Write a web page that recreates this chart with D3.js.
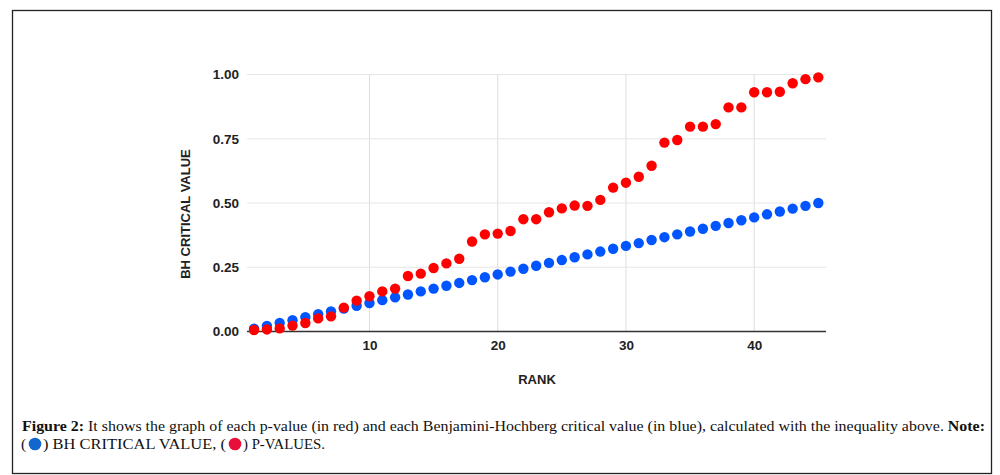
<!DOCTYPE html>
<html>
<head>
<meta charset="utf-8">
<script src="https://cdn.jsdelivr.net/npm/d3@7"></script>
<style>
  body { margin: 0; background: #fff; }
  svg { display: block; }
</style>
</head>
<body>
<div id="chart"></div>
<script>
// ranks 1..45
const ranks = d3.range(1, 46);

// BH critical values (blue)
const bhValues = [
  0.011, 0.022, 0.033, 0.044, 0.056, 0.067, 0.078, 0.089, 0.100, 0.111,
  0.122, 0.133, 0.144, 0.156, 0.167, 0.178, 0.189, 0.200, 0.211, 0.222,
  0.233, 0.244, 0.256, 0.267, 0.278, 0.289, 0.300, 0.311, 0.322, 0.333,
  0.344, 0.356, 0.367, 0.378, 0.389, 0.400, 0.411, 0.422, 0.433, 0.444,
  0.456, 0.467, 0.478, 0.489, 0.500
];

// p-values (red)
const pValues = [
  0.006, 0.008, 0.012, 0.023, 0.033, 0.051, 0.059, 0.093, 0.120, 0.137,
  0.156, 0.167, 0.216, 0.225, 0.247, 0.265, 0.283, 0.350, 0.378, 0.381,
  0.391, 0.437, 0.437, 0.464, 0.479, 0.490, 0.489, 0.512, 0.560, 0.579,
  0.602, 0.645, 0.735, 0.745, 0.797, 0.797, 0.807, 0.872, 0.872, 0.931,
  0.931, 0.933, 0.966, 0.982, 0.989
];

const xTicks = [10, 20, 30, 40];
const yTicks = [0, 0.25, 0.5, 0.75, 1];

const width = 1000, height = 475;
const svg = d3.select('#chart').append('svg')
  .attr('width', width)
  .attr('height', height);

// outer frame
svg.append('rect')
  .attr('x', 12.5).attr('y', 10.5)
  .attr('width', 979).attr('height', 463)
  .attr('fill', 'none')
  .attr('stroke', '#222')
  .attr('stroke-width', 1.3);

const x = d3.scaleLinear().domain([0.45, 45.6]).range([247, 826]);
const y = d3.scaleLinear().domain([0, 1]).range([331.5, 74.5]);

// gridlines
svg.append('g')
  .selectAll('line')
  .data(xTicks)
  .enter().append('line')
  .attr('x1', d => x(d)).attr('x2', d => x(d))
  .attr('y1', y(1)).attr('y2', y(0))
  .attr('stroke', '#ddd').attr('stroke-width', 1);

svg.append('g')
  .selectAll('line')
  .data(yTicks.filter(d => d > 0))
  .enter().append('line')
  .attr('x1', x(0.45)).attr('x2', x(45.6))
  .attr('y1', d => y(d)).attr('y2', d => y(d))
  .attr('stroke', '#e6e6e6').attr('stroke-width', 1);

// baseline
svg.append('line')
  .attr('x1', x(0.45)).attr('x2', x(45.6))
  .attr('y1', y(0)).attr('y2', y(0))
  .attr('stroke', '#333').attr('stroke-width', 1.5);

// axis tick labels
const sans = 'Liberation Sans, Arial, sans-serif';
const yAxis = d3.axisLeft(y).tickValues(yTicks).tickFormat(d3.format('.2f')).tickSize(0).tickPadding(8);
const gy = svg.append('g').attr('transform', `translate(${x(0.45)},0)`).call(yAxis);
gy.select('.domain').remove();
gy.selectAll('text')
  .attr('font-family', sans)
  .attr('font-size', 13.5).attr('font-weight', 'bold').attr('fill', '#222');

const xAxis = d3.axisBottom(x).tickValues(xTicks).tickSize(0).tickPadding(9);
const gx = svg.append('g').attr('transform', `translate(0,${y(0)})`).call(xAxis);
gx.select('.domain').remove();
gx.selectAll('text')
  .attr('font-family', sans)
  .attr('font-size', 13.5).attr('font-weight', 'bold').attr('fill', '#222');

// axis titles
svg.append('text')
  .attr('x', 537).attr('y', 384)
  .attr('text-anchor', 'middle')
  .attr('font-family', sans)
  .attr('font-size', 13).attr('font-weight', 'bold').attr('fill', '#222')
  .text('RANK');

svg.append('text')
  .attr('transform', 'translate(190,214) rotate(-90)')
  .attr('text-anchor', 'middle')
  .attr('font-family', sans)
  .attr('font-size', 13).attr('font-weight', 'bold').attr('fill', '#222')
  .text('BH CRITICAL VALUE');

// points
svg.append('g')
  .selectAll('circle')
  .data(ranks.map((r, i) => ({ r, v: bhValues[i] })))
  .enter().append('circle')
  .attr('cx', d => x(d.r)).attr('cy', d => y(d.v))
  .attr('r', 5.2)
  .attr('fill', '#0055ff');

svg.append('g')
  .selectAll('circle')
  .data(ranks.map((r, i) => ({ r, v: pValues[i] })))
  .enter().append('circle')
  .attr('cx', d => x(d.r)).attr('cy', d => y(d.v))
  .attr('r', 5.2)
  .attr('fill', '#ff0000');

// caption
const cap = svg.append('g')
  .attr('font-family', 'Liberation Serif, DejaVu Serif, serif')
  .attr('font-size', 15.5).attr('fill', '#111');

const line1 = cap.append('text').attr('x', 22).attr('y', 431)
  .attr('textLength', 963).attr('lengthAdjust', 'spacingAndGlyphs');
line1.append('tspan').attr('font-weight', 'bold').text('Figure 2:');
line1.append('tspan').text(' It shows the graph of each p-value (in red) and each Benjamini-Hochberg critical value (in blue), calculated with the inequality above. ');
line1.append('tspan').attr('font-weight', 'bold').text('Note:');

cap.append('text').attr('x', 21).attr('y', 449).text('(');
cap.append('text').attr('x', 43).attr('y', 449)
  .attr('textLength', 183).attr('lengthAdjust', 'spacingAndGlyphs')
  .text(') BH CRITICAL VALUE, (');
cap.append('text').attr('x', 243).attr('y', 449)
  .attr('textLength', 82).attr('lengthAdjust', 'spacingAndGlyphs')
  .text(') P-VALUES.');

svg.append('circle').attr('cx', 35).attr('cy', 444).attr('r', 6.3).attr('fill', '#1266cc');
svg.append('circle').attr('cx', 235).attr('cy', 444).attr('r', 6.3).attr('fill', '#e8103a');
</script>
</body>
</html>
